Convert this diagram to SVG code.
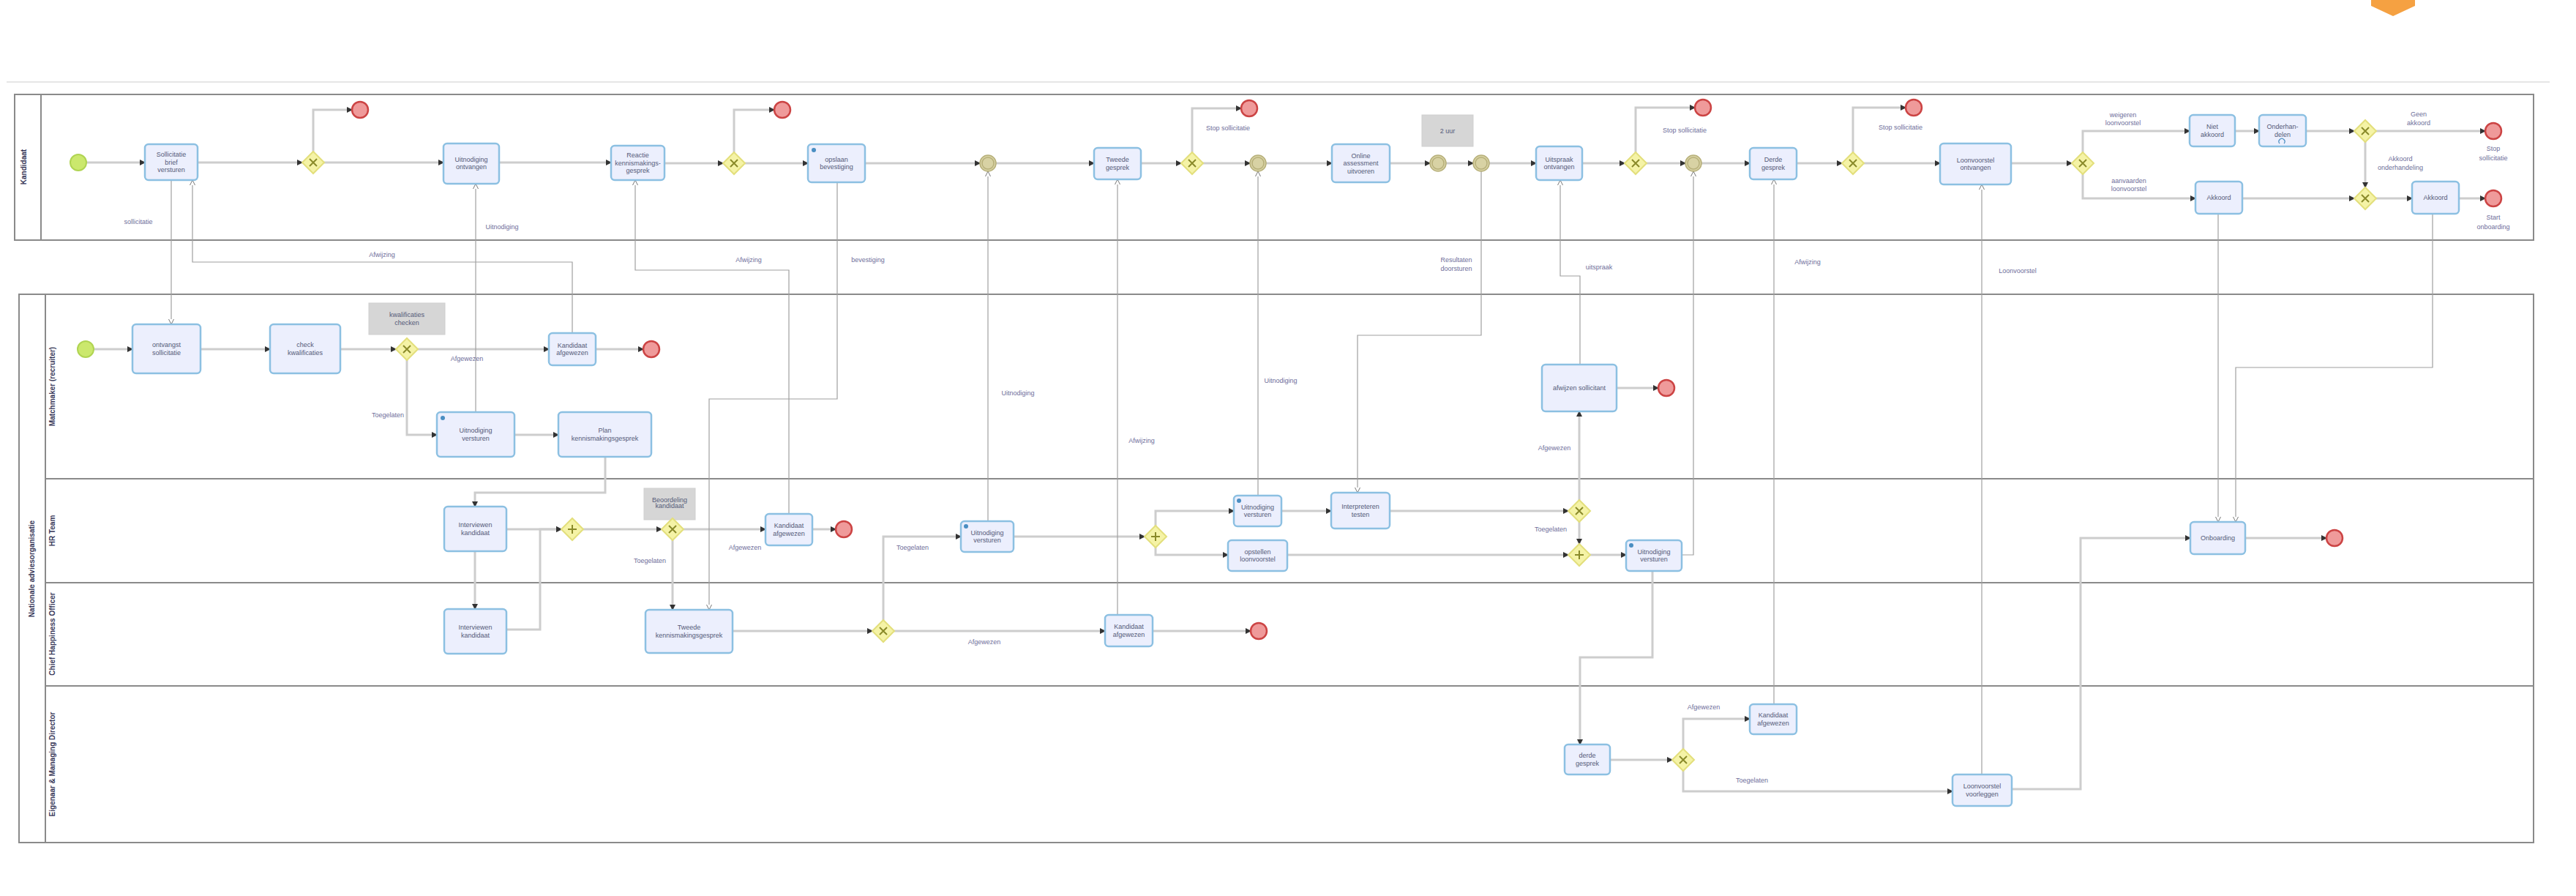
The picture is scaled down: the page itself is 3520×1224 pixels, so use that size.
<svg xmlns="http://www.w3.org/2000/svg" width="3520" height="1224" viewBox="0 0 3520 1224">
<style>
.pool{fill:none;stroke:#8a8a8a;stroke-width:2}
.lane{stroke:#8a8a8a;stroke-width:2}
.task rect.b{fill:#eceffd;stroke:#8cc0e2;stroke-width:2.5}
.t{font-family:'Liberation Sans',Arial,sans-serif;font-size:9px;fill:#555a78;text-anchor:middle}
.lbl{font-family:'Liberation Sans',Arial,sans-serif;font-size:9px;fill:#6e6e9a;text-anchor:middle}
.ph{font-family:'Liberation Sans',Arial,sans-serif;font-size:10px;font-weight:bold;fill:#3a3a5a;text-anchor:middle}
.seq{fill:none;stroke:#cdcdcd;stroke-width:3;marker-end:url(#arr)}
.msg{fill:none;stroke:#a0a0a0;stroke-width:1.2;marker-end:url(#marr)}
.gw{fill:#f5f3a6;stroke:#e3df7c;stroke-width:2}
.gx{stroke:#8a8a2a;stroke-width:2;fill:none}
.start{fill:#cbe86d;stroke:#b0d452;stroke-width:2}
.end{fill:#ef9a9a;stroke:#cc4444;stroke-width:2.5}
.ie{fill:#d8d2a4;stroke:#b7b07a;stroke-width:1.5}
.note{fill:#d6d6d6;stroke:#cfcfcf}
.icon{fill:#4a8ec2}
</style>
<defs>
<marker id="arr" markerUnits="userSpaceOnUse" markerWidth="8" markerHeight="8" refX="7" refY="4" orient="auto"><path d="M0,0 L8,4 L0,8 z" fill="#333"/></marker>
<marker id="marr" markerUnits="userSpaceOnUse" markerWidth="8" markerHeight="8" refX="7" refY="4" orient="auto"><path d="M0,0.5 L7,4 L0,7.5" fill="#fff" stroke="#777"/></marker>
<g id="gx"><path class="gx" d="M-5,-5 L5,5 M5,-5 L-5,5"/></g>
<g id="gp"><path class="gx" d="M0,-6 L0,6 M-6,0 L6,0"/></g>
</defs>

<!-- header line and logo -->
<line x1="9" y1="112" x2="3484" y2="112" stroke="#e6e6e6" stroke-width="2"/>
<path d="M3240,0 L3300,0 L3300,8 L3270,22 L3240,8 z" fill="#f5a142"/>

<!-- pools and lanes -->
<g id="pool-kandidaat">
<rect class="pool" x="20" y="129" width="3442" height="199"/>
<line class="lane" x1="56" y1="129" x2="56" y2="328"/>
<text class="ph" font-size="8" transform="translate(36,228) rotate(-90)">Kandidaat</text>
</g>
<g id="pool-organisatie">
<rect class="pool" x="26" y="402" width="3436" height="749"/>
<line class="lane" x1="62" y1="402" x2="62" y2="1151"/>
<line class="lane" x1="62" y1="654" x2="3462" y2="654"/>
<line class="lane" x1="62" y1="796" x2="3462" y2="796"/>
<line class="lane" x1="62" y1="937" x2="3462" y2="937"/>
<text class="ph" transform="translate(47,777) rotate(-90)">Nationale adviesorganisatie</text>
<text class="ph" transform="translate(75,528) rotate(-90)">Matchmaker (recruiter)</text>
<text class="ph" transform="translate(75,725) rotate(-90)">HR Team</text>
<text class="ph" transform="translate(75,866) rotate(-90)">Chief Happiness Officer</text>
<text class="ph" transform="translate(75,1044) rotate(-90)">Eigenaar &amp; Managing Director</text>
</g>

<!-- connectors -->
<g id="connectors">
<!-- top pool sequence flows -->
<path class="seq" d="M118,222 L198,222"/>
<path class="seq" d="M270,222 L413,222"/>
<path class="seq" d="M428,207 L428,150 L481,150"/>
<path class="seq" d="M443,222 L606,222"/>
<path class="seq" d="M682,222 L835,222"/>
<path class="seq" d="M908,223 L988,223"/>
<path class="seq" d="M1003,208 L1003,150 L1058,150"/>
<path class="seq" d="M1018,223 L1104,223"/>
<path class="seq" d="M1182,223 L1339,223"/>
<path class="seq" d="M1361,223 L1495,223"/>
<path class="seq" d="M1559,223 L1614,223"/>
<path class="seq" d="M1629,208 L1629,148 L1696,148"/>
<path class="seq" d="M1644,223 L1708,223"/>
<path class="seq" d="M1730,223 L1820,223"/>
<path class="seq" d="M1899,223 L1954,223"/>
<path class="seq" d="M1976,223 L2013,223"/>
<path class="seq" d="M2035,223 L2099,223"/>
<path class="seq" d="M2162,223 L2220,223"/>
<path class="seq" d="M2235,208 L2235,147 L2316,147"/>
<path class="seq" d="M2250,223 L2303,223"/>
<path class="seq" d="M2325,223 L2391,223"/>
<path class="seq" d="M2455,223 L2517,223"/>
<path class="seq" d="M2532,208 L2532,147 L2604,147"/>
<path class="seq" d="M2547,223 L2651,223"/>
<path class="seq" d="M2748,223 L2831,223"/>
<path class="seq" d="M2846,208 L2846,179 L2992,179"/>
<path class="seq" d="M2846,238 L2846,271 L3000,271"/>
<path class="seq" d="M3054,179 L3087,179"/>
<path class="seq" d="M3151,179 L3217,179"/>
<path class="seq" d="M3247,179 L3396,179"/>
<path class="seq" d="M3232,194 L3232,256"/>
<path class="seq" d="M3064,271 L3217,271"/>
<path class="seq" d="M3247,271 L3296,271"/>
<path class="seq" d="M3360,271 L3396,271"/>
<!-- lane 1 -->
<path class="seq" d="M128,477 L181,477"/>
<path class="seq" d="M274,477 L369,477"/>
<path class="seq" d="M465,477 L541,477"/>
<path class="seq" d="M571,477 L750,477"/>
<path class="seq" d="M814,477 L879,477"/>
<path class="seq" d="M556,492 L556,594 L597,594"/>
<path class="seq" d="M703,594 L763,594"/>
<path class="seq" d="M827,624 L827,673 L649,673 L649,692"/>
<!-- lane 2 -->
<path class="seq" d="M692,723 L767,723"/>
<path class="seq" d="M649,753 L649,832"/>
<path class="seq" d="M692,860 L738,860 L738,723 L767,723"/>
<path class="seq" d="M797,723 L904,723"/>
<path class="seq" d="M934,723 L1046,723"/>
<path class="seq" d="M1110,723 L1142,723"/>
<path class="seq" d="M919,738 L919,833"/>
<path class="seq" d="M1385,733 L1564,733"/>
<path class="seq" d="M1579,718 L1579,698 L1686,698"/>
<path class="seq" d="M1579,748 L1579,758 L1678,758"/>
<path class="seq" d="M1751,698 L1819,698"/>
<path class="seq" d="M1899,698 L2143,698"/>
<path class="seq" d="M2158,683 L2158,562"/>
<path class="seq" d="M2209,530 L2266,530"/>
<path class="seq" d="M2158,713 L2158,743"/>
<path class="seq" d="M1759,758 L2143,758"/>
<path class="seq" d="M2173,758 L2222,758"/>
<path class="seq" d="M2258,780 L2258,898 L2159,898 L2159,1017"/>
<path class="seq" d="M3068,735 L3179,735"/>
<path class="seq" d="M2749,1078 L2843,1078 L2843,735 L2993,735"/>
<!-- lane 3 -->
<path class="seq" d="M1001,862 L1192,862"/>
<path class="seq" d="M1207,847 L1207,733 L1313,733"/>
<path class="seq" d="M1222,862 L1510,862"/>
<path class="seq" d="M1575,862 L1709,862"/>
<!-- lane 4 -->
<path class="seq" d="M2200,1038 L2285,1038"/>
<path class="seq" d="M2300,1023 L2300,982 L2391,982"/>
<path class="seq" d="M2300,1053 L2300,1081 L2668,1081"/>
<!-- message flows -->
<path class="msg" d="M234,246 L234,443"/>
<path class="msg" d="M782,455 L782,358 L263,358 L263,246"/>
<path class="msg" d="M650,563 L650,251"/>
<path class="msg" d="M1078,702 L1078,369 L868,369 L868,246"/>
<path class="msg" d="M1144,249 L1144,545 L969,545 L969,833"/>
<path class="msg" d="M1350,712 L1350,234"/>
<path class="msg" d="M1527,840 L1527,245"/>
<path class="msg" d="M1719,677 L1719,234"/>
<path class="msg" d="M2024,234 L2024,458 L1855,458 L1855,673"/>
<path class="msg" d="M2159,498 L2159,377 L2132,377 L2132,246"/>
<path class="msg" d="M2298,758 L2314,758 L2314,234"/>
<path class="msg" d="M2424,962 L2424,245"/>
<path class="msg" d="M2708,1058 L2708,252"/>
<path class="msg" d="M3031,292 L3031,713"/>
<path class="msg" d="M3324,292 L3324,502 L3055,502 L3055,713"/>
<!-- labels -->
<text class="lbl" x="189" y="306">sollicitatie</text>
<text class="lbl" x="522" y="351">Afwijzing</text>
<text class="lbl" x="686" y="313">Uitnodiging</text>
<text class="lbl" x="1023" y="358">Afwijzing</text>
<text class="lbl" x="1186" y="358">bevestiging</text>
<text class="lbl" x="1391" y="540">Uitnodiging</text>
<text class="lbl" x="1560" y="605">Afwijzing</text>
<text class="lbl" x="1750" y="523">Uitnodiging</text>
<text class="lbl" x="1990" y="358">Resultaten</text>
<text class="lbl" x="1990" y="370">doorsturen</text>
<text class="lbl" x="2185" y="368">uitspraak</text>
<text class="lbl" x="2470" y="361">Afwijzing</text>
<text class="lbl" x="2757" y="373">Loonvoorstel</text>
<text class="lbl" x="1678" y="178">Stop sollicitatie</text>
<text class="lbl" x="2302" y="181">Stop sollicitatie</text>
<text class="lbl" x="2597" y="177">Stop sollicitatie</text>
<text class="lbl" x="2901" y="160">weigeren</text>
<text class="lbl" x="2901" y="171">loonvoorstel</text>
<text class="lbl" x="2909" y="250">aanvaarden</text>
<text class="lbl" x="2909" y="261">loonvoorstel</text>
<text class="lbl" x="3305" y="159">Geen</text>
<text class="lbl" x="3305" y="171">akkoord</text>
<text class="lbl" x="3407" y="206">Stop</text>
<text class="lbl" x="3407" y="219">sollicitatie</text>
<text class="lbl" x="3280" y="220">Akkoord</text>
<text class="lbl" x="3280" y="232">onderhandeling</text>
<text class="lbl" x="3407" y="300">Start</text>
<text class="lbl" x="3407" y="313">onboarding</text>
<text class="lbl" x="638" y="493">Afgewezen</text>
<text class="lbl" x="530" y="570">Toegelaten</text>
<text class="lbl" x="1018" y="751">Afgewezen</text>
<text class="lbl" x="888" y="769">Toegelaten</text>
<text class="lbl" x="1247" y="751">Toegelaten</text>
<text class="lbl" x="1345" y="880">Afgewezen</text>
<text class="lbl" x="2124" y="615">Afgewezen</text>
<text class="lbl" x="2119" y="726">Toegelaten</text>
<text class="lbl" x="2328" y="969">Afgewezen</text>
<text class="lbl" x="2394" y="1069">Toegelaten</text>
</g>

<!-- top pool nodes -->
<g id="start1"><circle class="start" cx="107" cy="222" r="11"/></g>
<g id="t1" class="task"><rect class="b" x="198" y="197" width="72" height="49" rx="5"/><text class="t" x="234" y="214">Sollicitatie</text><text class="t" x="234" y="224.5">brief</text><text class="t" x="234" y="235">versturen</text></g>
<g id="g1"><path class="gw" d="M428,207 L443,222 L428,237 L413,222 z"/><use href="#gx" x="428" y="222"/></g>
<g id="e1"><circle class="end" cx="492" cy="150" r="11"/></g>
<g id="t2" class="task"><rect class="b" x="606" y="196" width="76" height="55" rx="5"/><text class="t" x="644" y="221">Uitnodiging</text><text class="t" x="644" y="231">ontvangen</text></g>
<g id="t3" class="task"><rect class="b" x="835" y="199" width="73" height="47" rx="5"/><text class="t" x="871.5" y="215">Reactie</text><text class="t" x="871.5" y="225.5">kennismakings-</text><text class="t" x="871.5" y="236">gesprek</text></g>
<g id="g2"><path class="gw" d="M1003,208 L1018,223 L1003,238 L988,223 z"/><use href="#gx" x="1003" y="223"/></g>
<g id="e2"><circle class="end" cx="1069" cy="150" r="11"/></g>
<g id="t4" class="task"><rect class="b" x="1104" y="197" width="78" height="52" rx="5"/><circle class="icon" cx="1112" cy="205" r="3"/><text class="t" x="1143" y="220.5">opslaan</text><text class="t" x="1143" y="231">bevestiging</text></g>
<g id="ie1"><circle class="ie" cx="1350" cy="223" r="11"/><circle class="ie" cx="1350" cy="223" r="8"/></g>
<g id="t5" class="task"><rect class="b" x="1495" y="202" width="64" height="43" rx="5"/><text class="t" x="1527" y="221">Tweede</text><text class="t" x="1527" y="231.5">gesprek</text></g>
<g id="g3"><path class="gw" d="M1629,208 L1644,223 L1629,238 L1614,223 z"/><use href="#gx" x="1629" y="223"/></g>
<g id="e3"><circle class="end" cx="1707" cy="148" r="11"/></g>
<g id="ie2"><circle class="ie" cx="1719" cy="223" r="11"/><circle class="ie" cx="1719" cy="223" r="8"/></g>
<g id="t6" class="task"><rect class="b" x="1820" y="197" width="79" height="52" rx="5"/><text class="t" x="1859.5" y="215.5">Online</text><text class="t" x="1859.5" y="226">assessment</text><text class="t" x="1859.5" y="236.5">uitvoeren</text></g>
<g id="n1"><rect class="note" x="1943" y="157" width="70" height="43"/><text class="t" x="1978" y="182">2 uur</text></g>
<g id="ie3"><circle class="ie" cx="1965" cy="223" r="11"/><circle class="ie" cx="1965" cy="223" r="8"/></g>
<g id="ie4"><circle class="ie" cx="2024" cy="223" r="11"/><circle class="ie" cx="2024" cy="223" r="8"/></g>
<g id="t7" class="task"><rect class="b" x="2099" y="200" width="63" height="46" rx="5"/><text class="t" x="2130.5" y="220.5">Uitspraak</text><text class="t" x="2130.5" y="231">ontvangen</text></g>
<g id="g4"><path class="gw" d="M2235,208 L2250,223 L2235,238 L2220,223 z"/><use href="#gx" x="2235" y="223"/></g>
<g id="e4"><circle class="end" cx="2327" cy="147" r="11"/></g>
<g id="ie5"><circle class="ie" cx="2314" cy="223" r="11"/><circle class="ie" cx="2314" cy="223" r="8"/></g>
<g id="t8" class="task"><rect class="b" x="2391" y="202" width="64" height="43" rx="5"/><text class="t" x="2423" y="221">Derde</text><text class="t" x="2423" y="231.5">gesprek</text></g>
<g id="g5"><path class="gw" d="M2532,208 L2547,223 L2532,238 L2517,223 z"/><use href="#gx" x="2532" y="223"/></g>
<g id="e5"><circle class="end" cx="2615" cy="147" r="11"/></g>
<g id="t9" class="task"><rect class="b" x="2651" y="196" width="97" height="56" rx="5"/><text class="t" x="2699.5" y="221.5">Loonvoorstel</text><text class="t" x="2699.5" y="232">ontvangen</text></g>
<g id="g6"><path class="gw" d="M2846,208 L2861,223 L2846,238 L2831,223 z"/><use href="#gx" x="2846" y="223"/></g>
<g id="t10" class="task"><rect class="b" x="2992" y="157" width="62" height="43" rx="5"/><text class="t" x="3023" y="176">Niet</text><text class="t" x="3023" y="186.5">akkoord</text></g>
<g id="t11" class="task"><rect class="b" x="3087" y="157" width="64" height="43" rx="5"/><text class="t" x="3119" y="176">Onderhan-</text><text class="t" x="3119" y="186.5">delen</text><path d="M3115,196 a4,4 0 1 1 6,0" fill="none" stroke="#4a8ec2" stroke-width="1.2"/></g>
<g id="g7"><path class="gw" d="M3232,164 L3247,179 L3232,194 L3217,179 z"/><use href="#gx" x="3232" y="179"/></g>
<g id="e6"><circle class="end" cx="3407" cy="179" r="11"/></g>
<g id="t12" class="task"><rect class="b" x="3000" y="248" width="64" height="44" rx="5"/><text class="t" x="3032" y="273">Akkoord</text></g>
<g id="g8"><path class="gw" d="M3232,256 L3247,271 L3232,286 L3217,271 z"/><use href="#gx" x="3232" y="271"/></g>
<g id="t13" class="task"><rect class="b" x="3296" y="248" width="64" height="44" rx="5"/><text class="t" x="3328" y="273">Akkoord</text></g>
<g id="e7"><circle class="end" cx="3407" cy="271" r="11"/></g>

<!-- lane 1 -->
<g id="start2"><circle class="start" cx="117" cy="477" r="11"/></g>
<g id="l1" class="task"><rect class="b" x="181" y="443" width="93" height="67" rx="5"/><text class="t" x="227.5" y="474">ontvangst</text><text class="t" x="227.5" y="484.5">sollicitatie</text></g>
<g id="l2" class="task"><rect class="b" x="369" y="443" width="96" height="67" rx="5"/><text class="t" x="417" y="474">check</text><text class="t" x="417" y="484.5">kwalificaties</text></g>
<g id="n2"><rect class="note" x="504" y="414" width="104" height="43"/><text class="t" x="556" y="433">kwalificaties</text><text class="t" x="556" y="444">checken</text></g>
<g id="g9"><path class="gw" d="M556,462 L571,477 L556,492 L541,477 z"/><use href="#gx" x="556" y="477"/></g>
<g id="l3" class="task"><rect class="b" x="750" y="455" width="64" height="44" rx="5"/><text class="t" x="782" y="474.5">Kandidaat</text><text class="t" x="782" y="485">afgewezen</text></g>
<g id="e8"><circle class="end" cx="890" cy="477" r="11"/></g>
<g id="l4" class="task"><rect class="b" x="597" y="563" width="106" height="61" rx="5"/><circle class="icon" cx="605" cy="571" r="3"/><text class="t" x="650" y="591">Uitnodiging</text><text class="t" x="650" y="601.5">versturen</text></g>
<g id="l5" class="task"><rect class="b" x="763" y="563" width="127" height="61" rx="5"/><text class="t" x="826.5" y="591">Plan</text><text class="t" x="826.5" y="601.5">kennismakingsgesprek</text></g>
<g id="l6" class="task"><rect class="b" x="2107" y="498" width="102" height="64" rx="5"/><text class="t" x="2158" y="533">afwijzen sollicitant</text></g>
<g id="e9"><circle class="end" cx="2277" cy="530" r="11"/></g>

<!-- lane 2 -->
<g id="l7" class="task"><rect class="b" x="607" y="692" width="85" height="61" rx="5"/><text class="t" x="649.5" y="720">Interviewen</text><text class="t" x="649.5" y="730.5">kandidaat</text></g>
<g id="p1"><path class="gw" d="M782,708 L797,723 L782,738 L767,723 z"/><use href="#gp" x="782" y="723"/></g>
<g id="n3"><rect class="note" x="880" y="667" width="70" height="43"/><text class="t" font-size="6" x="915" y="686">Beoordeling</text><text class="t" font-size="6" x="915" y="694">kandidaat</text></g>
<g id="g10"><path class="gw" d="M919,708 L934,723 L919,738 L904,723 z"/><use href="#gx" x="919" y="723"/></g>
<g id="l8" class="task"><rect class="b" x="1046" y="702" width="64" height="43" rx="5"/><text class="t" x="1078" y="721">Kandidaat</text><text class="t" x="1078" y="731.5">afgewezen</text></g>
<g id="e10"><circle class="end" cx="1153" cy="723" r="11"/></g>
<g id="l9" class="task"><rect class="b" x="1313" y="712" width="72" height="42" rx="5"/><circle class="icon" cx="1320" cy="719" r="3"/><text class="t" x="1349" y="730.5">Uitnodiging</text><text class="t" x="1349" y="741">versturen</text></g>
<g id="p2"><path class="gw" d="M1579,718 L1594,733 L1579,748 L1564,733 z"/><use href="#gp" x="1579" y="733"/></g>
<g id="l10" class="task"><rect class="b" x="1686" y="677" width="65" height="42" rx="5"/><circle class="icon" cx="1693" cy="684" r="3"/><text class="t" x="1718.5" y="695.5">Uitnodiging</text><text class="t" x="1718.5" y="706">versturen</text></g>
<g id="l11" class="task"><rect class="b" x="1678" y="738" width="81" height="42" rx="5"/><text class="t" x="1718.5" y="756.5">opstellen</text><text class="t" x="1718.5" y="767">loonvoorstel</text></g>
<g id="l12" class="task"><rect class="b" x="1819" y="673" width="80" height="49" rx="5"/><text class="t" x="1859" y="695">Interpreteren</text><text class="t" x="1859" y="705.5">testen</text></g>
<g id="g11"><path class="gw" d="M2158,683 L2173,698 L2158,713 L2143,698 z"/><use href="#gx" x="2158" y="698"/></g>
<g id="p3"><path class="gw" d="M2158,743 L2173,758 L2158,773 L2143,758 z"/><use href="#gp" x="2158" y="758"/></g>
<g id="l13" class="task"><rect class="b" x="2222" y="738" width="76" height="42" rx="5"/><circle class="icon" cx="2229" cy="745" r="3"/><text class="t" x="2260" y="756.5">Uitnodiging</text><text class="t" x="2260" y="767">versturen</text></g>
<g id="l14" class="task"><rect class="b" x="2993" y="713" width="75" height="44" rx="5"/><text class="t" x="3030.5" y="738">Onboarding</text></g>
<g id="e11"><circle class="end" cx="3190" cy="735" r="11"/></g>

<!-- lane 3 -->
<g id="l15" class="task"><rect class="b" x="607" y="832" width="85" height="61" rx="5"/><text class="t" x="649.5" y="860">Interviewen</text><text class="t" x="649.5" y="870.5">kandidaat</text></g>
<g id="l16" class="task"><rect class="b" x="882" y="833" width="119" height="59" rx="5"/><text class="t" x="941.5" y="860">Tweede</text><text class="t" x="941.5" y="870.5">kennismakingsgesprek</text></g>
<g id="g12"><path class="gw" d="M1207,847 L1222,862 L1207,877 L1192,862 z"/><use href="#gx" x="1207" y="862"/></g>
<g id="l17" class="task"><rect class="b" x="1510" y="840" width="65" height="43" rx="5"/><text class="t" x="1542.5" y="859">Kandidaat</text><text class="t" x="1542.5" y="869.5">afgewezen</text></g>
<g id="e12"><circle class="end" cx="1720" cy="862" r="11"/></g>

<!-- lane 4 -->
<g id="l18" class="task"><rect class="b" x="2138" y="1017" width="62" height="41" rx="5"/><text class="t" x="2169" y="1035">derde</text><text class="t" x="2169" y="1045.5">gesprek</text></g>
<g id="g13"><path class="gw" d="M2300,1023 L2315,1038 L2300,1053 L2285,1038 z"/><use href="#gx" x="2300" y="1038"/></g>
<g id="l20" class="task"><rect class="b" x="2391" y="962" width="64" height="41" rx="5"/><text class="t" x="2423" y="980">Kandidaat</text><text class="t" x="2423" y="990.5">afgewezen</text></g>
<g id="l19" class="task"><rect class="b" x="2668" y="1058" width="81" height="43" rx="5"/><text class="t" x="2708.5" y="1077">Loonvoorstel</text><text class="t" x="2708.5" y="1087.5">voorleggen</text></g>
</svg>
